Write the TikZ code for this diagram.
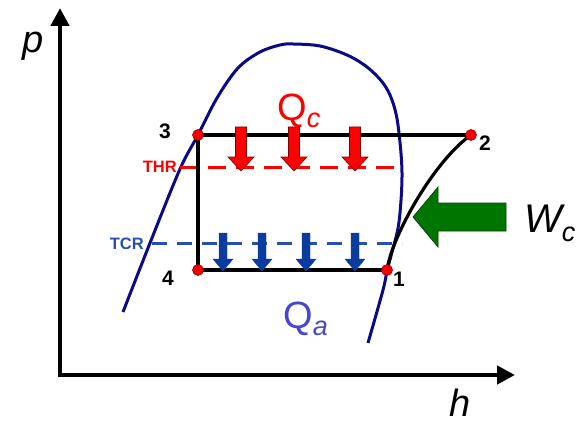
\documentclass[tikz,border=0pt]{standalone}
\usepackage{fontspec}
\setmainfont{Liberation Sans}
\usetikzlibrary{arrows.meta}
\definecolor{domeblue}{RGB}{10,10,135}
\definecolor{arrblue}{RGB}{10,60,160}
\definecolor{tcrblue}{RGB}{40,80,170}
\definecolor{qablue}{RGB}{70,70,210}
\definecolor{wgreen}{RGB}{0,118,0}
\definecolor{dotred}{RGB}{245,0,0}
\newcommand\fatdown[7]{%
  \filldraw[#7] (#1-#5,#2) -- (#1+#5,#2) -- (#1+#5,#3) -- (#1+#6,#3) -- (#1,#4) -- (#1-#6,#3) -- (#1-#5,#3) -- cycle;}
\tikzset{
  axis/.style={line width=4.5pt, line join=miter, {Triangle[length=18pt,width=18pt]}-{Triangle[length=18pt,width=18pt]}},
  dome/.style={draw=domeblue, line width=3pt},
  cyc/.style={draw=black, line width=3.2pt},
  dot/.style={circle, fill=dotred, draw=red!60!black, line width=0.6pt, inner sep=0pt, minimum size=11pt},
  num/.style={font=\fontsize{21}{21}\selectfont\bfseries, text=black, inner sep=0pt},
  lvl/.style={font=\fontsize{16.5}{16.5}\selectfont\bfseries, inner sep=0pt, anchor=east},
  redarr/.style={fill=red, draw=red!50!black, line width=0.6pt},
  bluearr/.style={fill=arrblue, draw=arrblue},
}
\begin{document}
\begin{tikzpicture}[x=1pt,y=-1pt]
\useasboundingbox (0,0) rectangle (578,425);
% axes
\coordinate (ytip) at (60,8);
\coordinate (O) at (60,375);
\coordinate (xtip) at (515,375);
\draw[axis] (ytip) -- (O) -- (xtip);
\node[font=\fontsize{38}{38}\selectfont\itshape, inner sep=0pt] (plab) at (33,46) {p};
\node[font=\fontsize{38}{38}\selectfont\itshape, inner sep=0pt] (hlab) at (460,403) {h};
% dome
\draw[dome] plot[smooth, tension=0.55] coordinates {(123,312) (150,243) (180,169) (198,135) (217,98) (238,68) (260,52) (280,45) (293,44) (320,46) (347,55) (367,67) (383,83) (392,100) (398,125) (402,173) (399,222) (392,252) (387,271) (383,290) (368,343)};
% level lines
\coordinate (thrA) at (180,167);
\coordinate (thrB) at (394,167);
\coordinate (tcrA) at (152,243);
\coordinate (tcrB) at (402,243);
\draw[red, line width=3pt, dash pattern=on 18pt off 10pt] (thrA) -- (thrB);
\draw[tcrblue, line width=3pt, dash pattern=on 15pt off 10pt] (tcrA) -- (tcrB);
\node[lvl, text=red] (thr) at (177,167) {THR};
\node[lvl, text=tcrblue] (tcr) at (144,244) {TCR};
% cycle points
\coordinate (c1) at (387,270);
\coordinate (c2) at (471,135);
\coordinate (c3) at (198,135);
\coordinate (c4) at (198,270);
\draw[cyc] (c3) -- (c2);
\draw[cyc] (c3) -- (c4);
\draw[cyc] (c4) -- (c1);
\draw[cyc] (c1) .. controls (392,235) and (435,160) .. (c2);
% heat arrows
\fatdown{241}{127}{157}{171}{5.5}{13}{redarr}
\fatdown{294}{127}{157}{171}{5.5}{13}{redarr}
\fatdown{355}{127}{157}{171}{5.5}{13}{redarr}
\fatdown{223}{233}{259}{271}{4}{10}{bluearr}
\fatdown{262}{233}{259}{271}{4}{10}{bluearr}
\fatdown{306}{233}{259}{271}{4}{10}{bluearr}
\fatdown{355}{233}{259}{271}{4}{10}{bluearr}
% dots
\node[dot] (p1) at (c1) {};
\node[dot] (p2) at (c2) {};
\node[dot] (p3) at (c3) {};
\node[dot] (p4) at (c4) {};
\node[num] (n3) at (165,131) {3};
\node[num] (n2) at (485,143) {2};
\node[num] (n4) at (168,278) {4};
\node[num] (n1) at (399,279) {1};
% compressor work arrow
\filldraw[fill=wgreen, draw=green!25!black, line width=0.7pt] (413,217) -- (438,187) -- (438,203) -- (506,203) -- (506,231) -- (438,231) -- (438,247) -- cycle;
\node[font=\fontsize{40}{40}\selectfont\itshape, inner sep=0pt, anchor=base west] (wc) at (524,232) {W\raisebox{-9pt}{\fontsize{27}{27}\selectfont c}};
% heat labels
\node[font=\fontsize{38}{38}\selectfont, text=red, inner sep=0pt, anchor=base west] (qc) at (277,121) {Q\raisebox{-7pt}{\fontsize{27}{27}\selectfont\itshape c}};
\node[font=\fontsize{38}{38}\selectfont, text=qablue, inner sep=0pt, anchor=base west] (qa) at (283,328) {Q\raisebox{-7pt}{\fontsize{27}{27}\selectfont\itshape a}};
\end{tikzpicture}
\end{document}
